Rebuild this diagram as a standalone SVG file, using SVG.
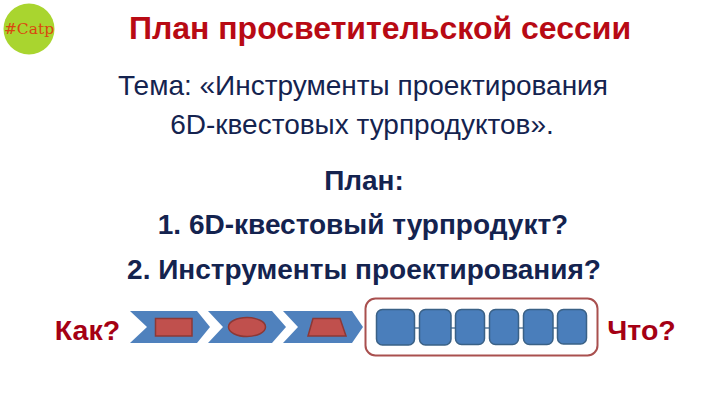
<svg xmlns="http://www.w3.org/2000/svg" width="720" height="405" viewBox="0 0 720 405">
<style>
text{font-family:"Liberation Sans",Arial,sans-serif;text-anchor:middle}
.t{font-size:32px;font-weight:bold;fill:#b80a14}
.s{font-size:28px;fill:#14234f}
.b{font-size:28px;font-weight:bold;fill:#14234f}
.q{font-size:28.500px;font-weight:bold;fill:#a50014}
.c{fill:#4f81bd}
.r{fill:#c0504d;stroke:#8c3836;stroke-width:1.5}
.n{fill:#4a7ebb;stroke:#3a6186;stroke-width:1.5}
.l{stroke:#5f7f9f;stroke-width:1.5;fill:none}
</style>
<rect width="720" height="405" fill="#fff"/>
<g id="logo"><circle cx="29" cy="29" r="25.5" fill="#a9d52f"/><text x="29" y="34" style="font-family:'DejaVu Serif',serif;font-size:15.500px;fill:#d9480f">#Catp</text></g>
<g id="title"><text class="t" x="380" y="39">План просветительской сессии</text></g>
<g id="subject"><text class="s" x="363" y="95">Тема: «Инструменты проектирования</text><text class="s" x="362" y="134">6D-квестовых турпродуктов».</text></g>
<g id="plan"><text class="b" x="364" y="190">План:</text><text class="b" x="363" y="234">1. 6D-квестовый турпродукт?</text><text class="b" x="364" y="279">2. Инструменты проектирования?</text></g>
<g id="how"><text class="q" x="87.500" y="340">Как?</text></g>
<g id="what"><text class="q" x="641.500" y="340">Что?</text></g>
<g id="step1"><path class="c" d="M130 311H197L210 327 197 343H130L147 327Z"/><rect class="r" x="155.500" y="318.500" width="36.500" height="17.500"/></g>
<g id="step2"><path class="c" d="M208 311H272L286 327 272 343H208L223 327Z"/><ellipse class="r" cx="247" cy="327" rx="18.500" ry="9.500"/></g>
<g id="step3"><path class="c" d="M283 311H352L363 327 352 343H283L298 327Z"/><path class="r" d="M313 318.500H340L346 336H308Z"/></g>
<g id="frame"><rect x="365.500" y="298.500" width="232" height="57" rx="10" fill="#fff" stroke="#a9504f" stroke-width="2"/></g>
<g id="connectors"><path class="l" d="M414 328H419M451 328H455M484 328H489M519 328H523M553 328H557"/></g>
<g id="box1"><rect class="n" x="376.500" y="309.500" width="38" height="35.500" rx="6"/></g>
<g id="box2"><rect class="n" x="419.500" y="309.500" width="31.500" height="35.500" rx="6"/></g>
<g id="box3"><rect class="n" x="455.500" y="309.500" width="29" height="35" rx="6"/></g>
<g id="box4"><rect class="n" x="489.500" y="309.500" width="29" height="35" rx="6"/></g>
<g id="box5"><rect class="n" x="523.500" y="309.500" width="29.500" height="35" rx="6"/></g>
<g id="box6"><rect class="n" x="557.500" y="309.500" width="29" height="34.500" rx="6"/></g>
</svg>
